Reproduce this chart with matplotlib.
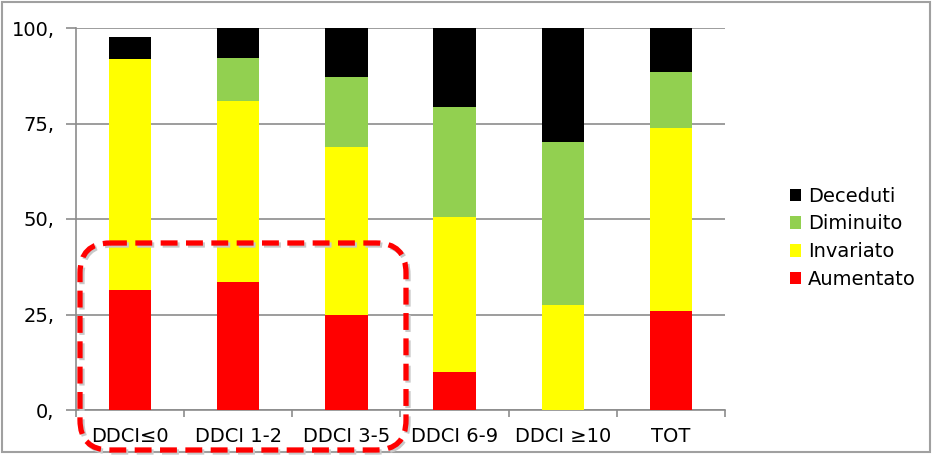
import matplotlib
matplotlib.use("Agg")
import matplotlib.pyplot as plt
from matplotlib.patches import FancyBboxPatch, Rectangle

categories = ["DDCI≤0", "DDCI 1-2", "DDCI 3-5", "DDCI 6-9", "DDCI ≥10", "TOT"]
aumentato = [31.3, 33.5, 25.0, 10.0, 0.0, 26.0]
invariato = [60.6, 47.4, 43.8, 40.5, 27.5, 47.8]
diminuito = [0.0, 11.2, 18.4, 28.8, 42.7, 14.7]
deceduti = [5.7, 7.9, 12.8, 20.7, 29.8, 11.5]
yticks = [0, 25, 50, 75, 100]
ytick_labels = ["0,", "25,", "50,", "75,", "100,"]

colors = {"Aumentato": "#FF0000", "Invariato": "#FFFF00",
          "Diminuito": "#92D050", "Deceduti": "#000000"}

W, H = 935, 455
fig = plt.figure(figsize=(W / 100, H / 100), dpi=100)
ax = fig.add_axes([76 / W, (H - 410) / H, (725 - 76) / W, (410 - 28) / H])

x = list(range(len(categories)))
bw = 0.39
bottom = [0.0] * len(categories)
handles = {}
for name, vals in [("Aumentato", aumentato), ("Invariato", invariato),
                   ("Diminuito", diminuito), ("Deceduti", deceduti)]:
    handles[name] = ax.bar(x, vals, bw, bottom=bottom, color=colors[name],
                           label=name, zorder=3)
    bottom = [b + v for b, v in zip(bottom, vals)]

fs = 14
ax.set_xlim(-0.5, len(categories) - 0.5)
ax.set_ylim(0, 100)
ax.set_yticks(yticks)
ax.set_yticklabels(ytick_labels)
ax.yaxis.grid(True, color="#8c8c8c", linewidth=1.2, zorder=0)
ax.set_xticks(x)
ax.set_xticklabels(categories)
ax.set_xticks([i - 0.5 for i in range(len(categories) + 1)], minor=True)
ax.tick_params(axis="x", which="major", length=0, pad=12, labelsize=fs)
ax.tick_params(axis="x", which="minor", length=5, color="#8c8c8c", width=1.2)
ax.tick_params(axis="y", length=7, color="#8c8c8c", width=1.2, pad=8.5,
               labelsize=fs)
for s in ["top", "right"]:
    ax.spines[s].set_visible(False)
for s in ["left", "bottom"]:
    ax.spines[s].set_color("#8c8c8c")
    ax.spines[s].set_linewidth(1.2)

order = ["Deceduti", "Diminuito", "Invariato", "Aumentato"]
fig.legend([handles[n] for n in order], order, loc="upper left",
           bbox_to_anchor=(780 / W, 1 - 177 / H), frameon=False,
           fontsize=fs, handlelength=0.6, handleheight=0.6,
           handletextpad=0.35, labelspacing=0.45, borderpad=0)

# overlay in pixel coordinates (y downwards)
ov = fig.add_axes([0, 0, 1, 1], zorder=10)
ov.set_xlim(0, W)
ov.set_ylim(H, 0)
ov.axis("off")
ov.patch.set_alpha(0)

ov.add_patch(Rectangle((2, 2), 928, 450, fill=False,
                       edgecolor="#a0a0a0", linewidth=1.5))

for dx, dy, col in [(2, 2, "#c8c8c8"), (0, 0, "#FF0000")]:
    ov.add_patch(FancyBboxPatch((80 + dx, 243 + dy), 326, 207,
                                boxstyle="round,pad=0,rounding_size=30",
                                fill=False, edgecolor=col, linewidth=3.8,
                                linestyle=(0, (3.2, 1.6)), clip_on=False))

fig.savefig("out.png", dpi=100)
